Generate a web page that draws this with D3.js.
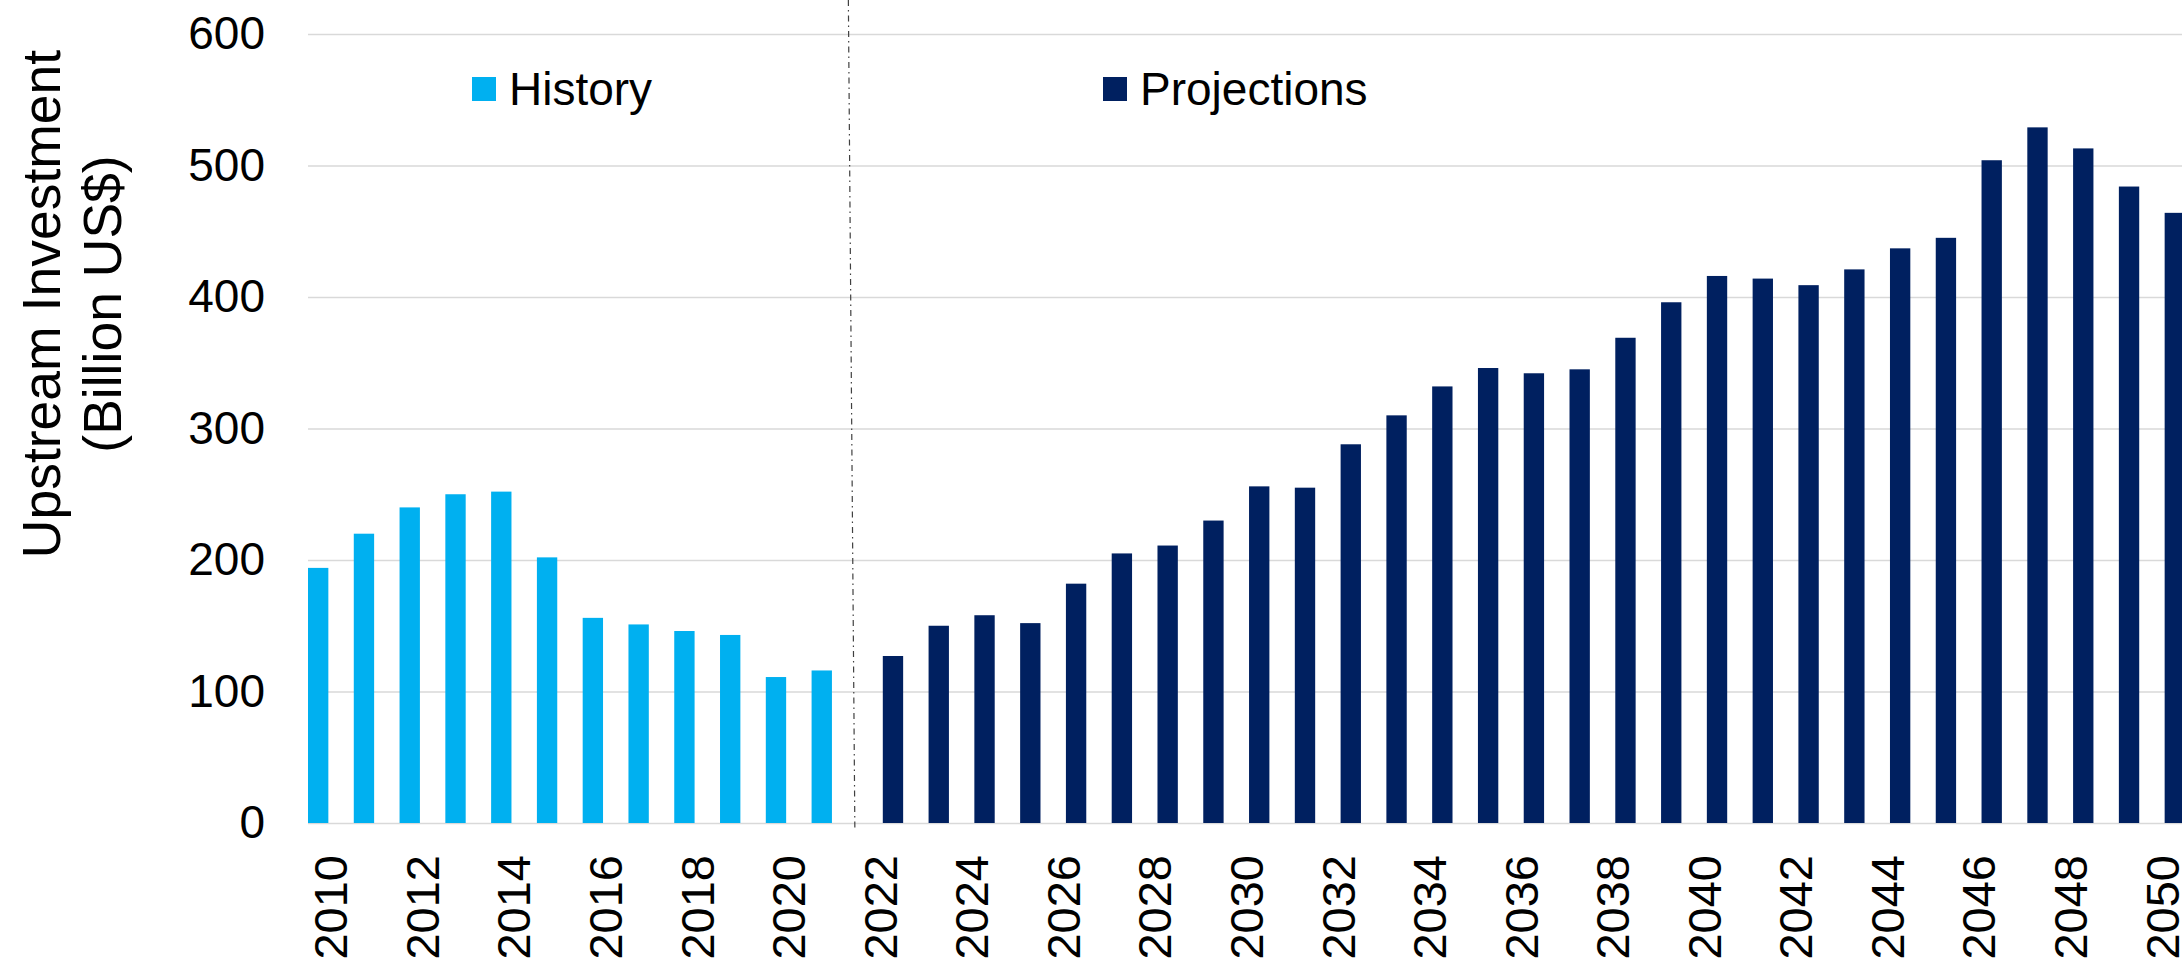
<!DOCTYPE html>
<html>
<head>
<meta charset="utf-8">
<script src="https://cdn.jsdelivr.net/npm/d3@7"></script>
<style>
    body { margin: 0; background: #fff; }
    svg { display: block; font-family: "Liberation Sans", Arial, sans-serif; }
</style>
</head>
<body>
<script>
//years on the category axis
var years = d3.range(2010, 2051);

//history values, 2010-2021 (billion US$)
var historyYears = d3.range(2010, 2022);
var historyValues = [194, 220, 240, 250, 252, 202, 156, 151, 146, 143, 111, 116];

//projection values, 2022-2050 (billion US$)
var projectionYears = d3.range(2022, 2051);
var projectionValues = [127, 150, 158, 152, 182, 205, 211, 230, 256, 255,
    288, 310, 332, 346, 342, 345, 369, 396, 416, 414,
    409, 421, 437, 445, 504, 529, 513, 484, 464];

//series names and colours
var seriesNames = ["History", "Projections"];
var seriesColors = ["#00b0f0", "#002060"];

//y axis ticks and x tick labels
var yTicks = [0, 100, 200, 300, 400, 500, 600];
var xTickYears = years.filter(function(y){ return y % 2 === 0; });

//begin script when window loads
window.onload = setChart();

function setChart(){

    //frame dimensions
    var width = 2182,
        height = 962;

    var margin = {top: 34, left: 308, bottom: 139};
    var plotWidth = 1877,
        plotBottom = height - margin.bottom;

    var svg = d3.select("body")
        .append("svg")
        .attr("width", width)
        .attr("height", height);

    //scales
    var x = d3.scaleBand()
        .domain(years)
        .range([margin.left, margin.left + plotWidth])
        .padding(0);

    var slot = d3.scaleBand()
        .domain(seriesNames)
        .range([0, x.bandwidth()])
        .paddingInner(0.2)
        .paddingOuter(0);

    var y = d3.scaleLinear()
        .domain([0, 600])
        .range([plotBottom, margin.top]);

    //gridlines and y labels
    var yAxis = svg.append("g")
        .attr("transform", "translate(" + margin.left + ",0)")
        .call(d3.axisLeft(y)
            .tickValues(yTicks)
            .tickSizeInner(-plotWidth)
            .tickSizeOuter(0)
            .tickPadding(43));

    yAxis.select(".domain").remove();
    yAxis.selectAll(".tick line")
        .attr("stroke", "#d9d9d9")
        .attr("stroke-width", 1.6);
    yAxis.selectAll(".tick text")
        .attr("fill", "#000")
        .style("font-size", "46px");

    //bars, one table per series
    var table = historyYears.map(function(yr, i){
        return {year: yr, value: historyValues[i], series: "History"};
    }).concat(projectionYears.map(function(yr, i){
        return {year: yr, value: projectionValues[i], series: "Projections"};
    }));

    svg.selectAll(".bar")
        .data(table)
        .enter()
        .append("rect")
        .attr("class", "bar")
        .attr("x", function(d){ return x(d.year) + slot(d.series); })
        .attr("y", function(d){ return y(d.value); })
        .attr("width", slot.bandwidth())
        .attr("height", function(d){ return y(0) - y(d.value); })
        .attr("fill", function(d){ return seriesColors[seriesNames.indexOf(d.series)]; });

    //x labels, rotated
    var xAxis = svg.append("g")
        .attr("transform", "translate(0," + plotBottom + ")")
        .call(d3.axisBottom(x)
            .tickValues(xTickYears)
            .tickSize(0));

    xAxis.select(".domain").remove();
    xAxis.selectAll(".tick text")
        .attr("fill", "#000")
        .style("font-size", "47px")
        .attr("text-anchor", "end")
        .attr("transform", "translate(0,32) rotate(-90)")
        .attr("x", 0)
        .attr("y", 0)
        .attr("dy", "0.35em");

    //dash-dot divider between history and projections
    var split = x(2022);
    svg.append("line")
        .attr("x1", split - 9)
        .attr("y1", 0)
        .attr("x2", split - 2.5)
        .attr("y2", plotBottom + 7)
        .attr("stroke", "#404040")
        .attr("stroke-width", 1.2)
        .attr("stroke-dasharray", "6,4,1.5,4");

    //legend entries
    var legendX = [472, 1103];
    var legend = svg.selectAll(".legend")
        .data(seriesNames)
        .enter()
        .append("g")
        .attr("class", "legend")
        .attr("transform", function(d, i){ return "translate(" + legendX[i] + ",77)"; });

    legend.append("rect")
        .attr("width", 24)
        .attr("height", 24)
        .attr("fill", function(d, i){ return seriesColors[i]; });

    legend.append("text")
        .attr("x", 37)
        .attr("y", 12)
        .attr("dy", "0.35em")
        .style("font-size", "46px")
        .text(function(d){ return d; });

    //y axis title, two lines
    var titleLines = ["Upstream Investment", "(Billion US$)"];
    var titleX = [60, 121];
    svg.selectAll(".ytitle")
        .data(titleLines)
        .enter()
        .append("text")
        .attr("class", "ytitle")
        .attr("transform", function(d, i){ return "translate(" + titleX[i] + ",304) rotate(-90)"; })
        .attr("text-anchor", "middle")
        .style("font-size", "53.5px")
        .text(function(d){ return d; });
};
</script>
</body>
</html>
